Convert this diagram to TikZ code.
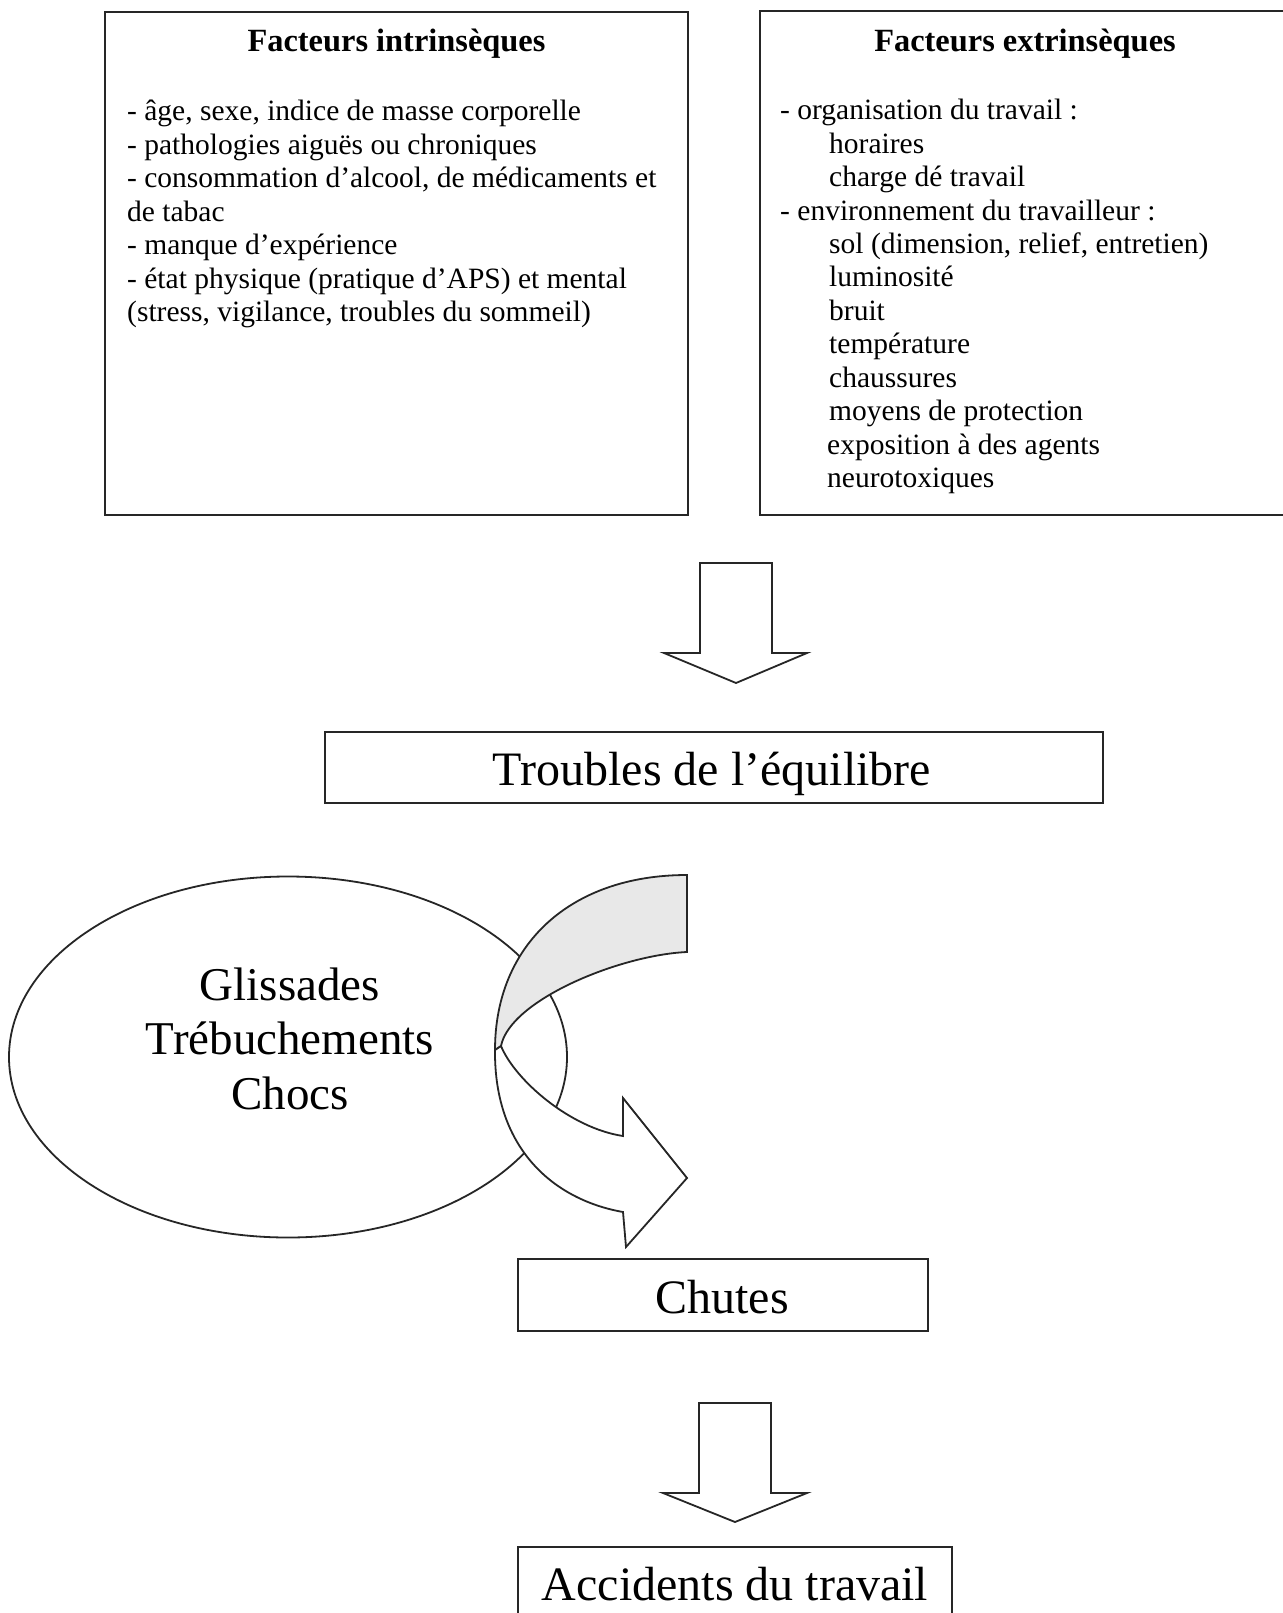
\documentclass[tikz,border=0pt]{standalone}
\usepackage{fontspec}
\setmainfont{Liberation Serif}
\usetikzlibrary{shapes.geometric}
\begin{document}
\begin{tikzpicture}[x=1pt,y=1pt,
  box/.style={draw=black!85, line width=2.2pt, inner sep=0pt},
  body/.style={font=\fontsize{29.5}{33.4}\selectfont, inner sep=0pt, anchor=base west},
  titletext/.style={font=\bfseries\fontsize{32.4}{38}\selectfont, inner sep=0pt, anchor=base},
  big/.style={font=\fontsize{48}{55}\selectfont, inner sep=0pt, anchor=base},
  blockarrow/.style={draw=black!85, line width=1.8pt, fill=white, line join=miter},
]
\useasboundingbox (0,0) rectangle (1282,-1613);
\fill[white] (0,0) rectangle (1282,-1613);

% top boxes
\node[box, minimum width=583pt, minimum height=503pt] (intr) at (396.5,-263.5) {};
\node[box, minimum width=530pt, minimum height=504pt] (extr) at (1025,-263) {};
\node[titletext] (tintr) at (396.5,-52) {Facteurs intrinsèques};
\node[titletext] (textr) at (1025,-52) {Facteurs extrinsèques};

% left list
\foreach \t [count=\i from 0] in {
  {- âge, sexe, indice de masse corporelle},
  {- pathologies aiguës ou chroniques},
  {- consommation d’alcool, de médicaments et},
  {de tabac},
  {- manque d’expérience},
  {- état physique (pratique d’APS) et mental},
  {(stress, vigilance, troubles du sommeil)}}
  \node[body] (li\i) at (127,-121-33.4*\i) {\t};

% right list
\node[body] (ri0) at (780,-120) {- organisation du travail :};
\foreach \t [count=\i from 1] in {
  {horaires},
  {charge dé travail}}
  \node[body] (ra\i) at (829,-120-33.4*\i) {\t};
\node[body] (ri3) at (780,-120-33.4*3) {- environnement du travailleur :};
\foreach \t [count=\i from 4] in {
  {sol (dimension, relief, entretien)},
  {luminosité},
  {bruit},
  {température},
  {chaussures},
  {moyens de protection}}
  \node[body] (rb\i) at (829,-120-33.4*\i) {\t};
\node[body] (rc10) at (827,-120-33.4*10) {exposition à des agents};
\node[body] (rc11) at (827,-120-33.4*11) {neurotoxiques};

% top block arrow
\coordinate (arrA) at (736,-563);
\draw[blockarrow, shift={(arrA)}] (-36,0) -- (36,0) -- (36,-90) -- (71,-90) -- (0,-120) -- (-72,-90) -- (-36,-90) -- cycle;

% Troubles de l'équilibre
\node[box, minimum width=778pt, minimum height=71pt] (troub) at (714,-767.5) {};
\node[big] (troubt) at (712,-785) {Troubles de l’équilibre};

% ellipse
\node[draw=black!85, line width=1.8pt, ellipse, minimum width=558pt, minimum height=361pt, inner sep=0pt] (ell) at (288,-1057) {};
\node[big, font=\fontsize{47}{54}\selectfont] (e1) at (290,-1000) {Glissades};
\node[big, font=\fontsize{47}{54}\selectfont] (e2) at (290,-1054) {Trébuchements};
\node[big, font=\fontsize{47}{54}\selectfont] (e3) at (290,-1109) {Chocs};

% curved ribbon arrow: shaded back part
\filldraw[blockarrow, fill=gray!18] (687,-875)
  .. controls (570,-875) and (495,-945) .. (495,-1050)
  -- (501,-1046)
  .. controls (510,-1000) and (620,-955) .. (687,-952)
  -- cycle;
% front part with head
\filldraw[blockarrow] (501,-1046)
  .. controls (515,-1080) and (570,-1128) .. (623,-1136)
  -- (623,-1098) -- (687,-1178) -- (626,-1247) -- (623,-1212)
  .. controls (555,-1200) and (494,-1150) .. (495,-1050)
  -- cycle;

% Chutes
\node[box, minimum width=410pt, minimum height=72pt] (chut) at (723,-1295) {};
\node[big] (chutt) at (722,-1313) {Chutes};

% bottom block arrow
\coordinate (arrB) at (735,-1403);
\draw[blockarrow, shift={(arrB)}] (-36,0) -- (36,0) -- (36,-90) -- (72,-90) -- (0,-119) -- (-72,-90) -- (-36,-90) -- cycle;

% Accidents du travail
\node[box, minimum width=434pt, minimum height=72pt] (acc) at (735,-1583) {};
\node[big] (acct) at (735,-1600) {Accidents du travail};
\end{tikzpicture}
\end{document}
